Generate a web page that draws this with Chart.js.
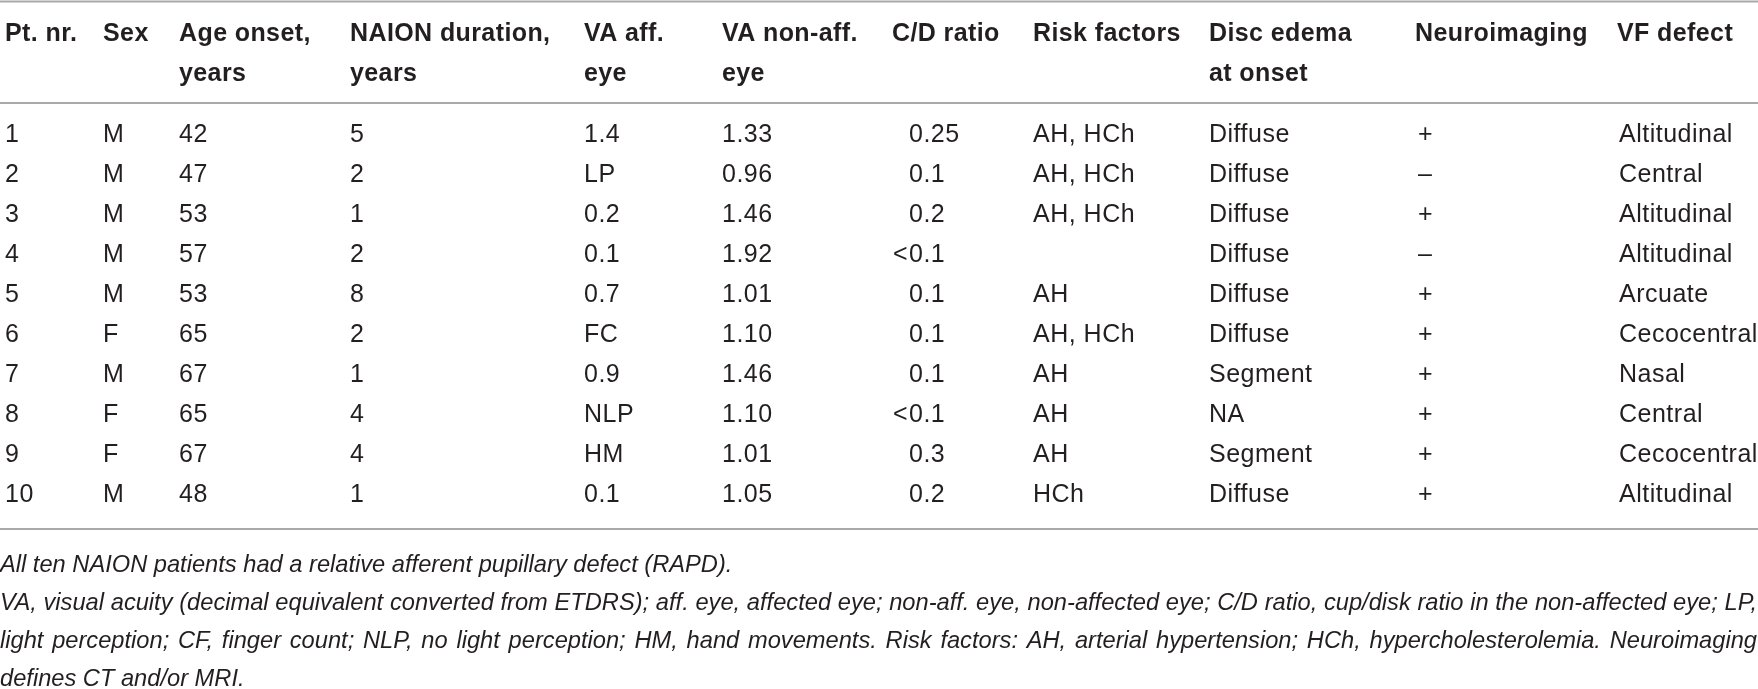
<!DOCTYPE html>
<html>
<head>
<meta charset="utf-8">
<script src="https://cdn.jsdelivr.net/npm/chart.js@4.4.1/dist/chart.umd.min.js"></script>
<style>
  html, body { margin: 0; padding: 0; background: #fff; overflow: hidden; }
  canvas { display: block; }
</style>
</head>
<body>
<canvas id="table" width="1758" height="689"></canvas>
<script>
// table content
const headerTop = ['Pt. nr.', 'Sex', 'Age onset,', 'NAION duration,', 'VA aff.', 'VA non-aff.', 'C/D ratio', 'Risk factors', 'Disc edema', 'Neuroimaging', 'VF defect'];
const headerBottom = ['', '', 'years', 'years', 'eye', 'eye', '', '', 'at onset', '', ''];

const patientNo = ['1', '2', '3', '4', '5', '6', '7', '8', '9', '10'];
const sex = ['M', 'M', 'M', 'M', 'M', 'F', 'M', 'F', 'F', 'M'];
const ageOnset = ['42', '47', '53', '57', '53', '65', '67', '65', '67', '48'];
const duration = ['5', '2', '1', '2', '8', '2', '1', '4', '4', '1'];
const vaAffected = ['1.4', 'LP', '0.2', '0.1', '0.7', 'FC', '0.9', 'NLP', 'HM', '0.1'];
const vaNonAffected = ['1.33', '0.96', '1.46', '1.92', '1.01', '1.10', '1.46', '1.10', '1.01', '1.05'];
const cdRatio = ['0.25', '0.1', '0.2', '<0.1', '0.1', '0.1', '0.1', '<0.1', '0.3', '0.2'];
const riskFactors = ['AH, HCh', 'AH, HCh', 'AH, HCh', '', 'AH', 'AH, HCh', 'AH', 'AH', 'AH', 'HCh'];
const discEdema = ['Diffuse', 'Diffuse', 'Diffuse', 'Diffuse', 'Diffuse', 'Diffuse', 'Segment', 'NA', 'Segment', 'Diffuse'];
const neuroimaging = ['+', '–', '+', '–', '+', '+', '+', '+', '+', '+'];
const vfDefect = ['Altitudinal', 'Central', 'Altitudinal', 'Altitudinal', 'Arcuate', 'Cecocentral', 'Nasal', 'Central', 'Cecocentral', 'Altitudinal'];

const footnotes = [
  'All ten NAION patients had a relative afferent pupillary defect (RAPD).',
  'VA, visual acuity (decimal equivalent converted from ETDRS); aff. eye, affected eye; non-aff. eye, non-affected eye; C/D ratio, cup/disk ratio in the non-affected eye; LP,',
  'light perception; CF, finger count; NLP, no light perception; HM, hand movements. Risk factors: AH, arterial hypertension; HCh, hypercholesterolemia. Neuroimaging',
  'defines CT and/or MRI.',
];
const justified = [false, true, true, false];

// layout (pixel units of the x / y scales)
const W = 1758, H = 689;
const HEAD_X = [5, 103, 179, 350, 584, 722, 892, 1033, 1209, 1415, 1617];
const COL_X = [5, 103, 179, 350, 584, 722, 909, 1033, 1209, 1418, 1619];
const HEAD_Y = [34, 74];
const ROW_Y0 = 135, ROW_STEP = 40;
const RULES_Y = [1.5, 103, 529];
const NOTE_Y0 = 565, NOTE_STEP = 38.3;

const TEXT = '#231f20';
const RULE = '#a9a9a9';
const BODY_FONT = '25px "Liberation Sans", Arial, sans-serif';
const HEAD_FONT = 'bold 25px "Liberation Sans", Arial, sans-serif';

const columns = [patientNo, sex, ageOnset, duration, vaAffected, vaNonAffected, cdRatio, riskFactors, discEdema, neuroimaging, vfDefect];

const cells = [];
columns.forEach((col, c) => col.forEach((t, r) => {
  cells.push({ x: COL_X[c], y: ROW_Y0 + r * ROW_STEP, text: t });
}));
const heads = [];
headerTop.forEach((t, c) => heads.push({ x: HEAD_X[c], y: HEAD_Y[0], text: t }));
headerBottom.forEach((t, c) => { if (t) heads.push({ x: HEAD_X[c], y: HEAD_Y[1], text: t }); });
const notes = footnotes.map((t, i) => ({ x: 0, y: NOTE_Y0 + i * NOTE_STEP, text: t, justify: justified[i] }));

const tableText = {
  id: 'tableText',
  beforeDatasetsDraw(chart) {
    const { ctx, scales: { x, y } } = chart;
    ctx.save();
    ctx.strokeStyle = RULE;
    ctx.lineWidth = 2;
    RULES_Y.forEach(v => {
      const py = y.getPixelForValue(v);
      ctx.beginPath();
      ctx.moveTo(x.getPixelForValue(0), py);
      ctx.lineTo(x.getPixelForValue(W), py);
      ctx.stroke();
    });
    ctx.restore();
  },
  afterDatasetsDraw(chart) {
    const { ctx, scales: { x } } = chart;
    ctx.save();
    ctx.fillStyle = TEXT;
    ctx.textBaseline = 'middle';
    chart.data.datasets.forEach((ds, di) => {
      const meta = chart.getDatasetMeta(di);
      ctx.font = ds.font;
      ctx.letterSpacing = ds.spacing || '0px';
      meta.data.forEach((pt, i) => {
        const d = ds.data[i];
        if (!d.text) return;
        ctx.textAlign = 'left';
        if (ds.kind === 'note' && d.justify) {
          const words = d.text.split(' ');
          const widths = words.map(w => ctx.measureText(w).width);
          const gap = (x.getPixelForValue(W) - 1 - pt.x - widths.reduce((a, b) => a + b, 0)) / (words.length - 1);
          let px = pt.x;
          words.forEach((w, k) => { ctx.fillText(w, px, pt.y); px += widths[k] + gap; });
        } else if (d.text.startsWith('<')) {
          // decimal-aligned: the "<" hangs left of the column edge
          ctx.textAlign = 'right';
          ctx.fillText('<', pt.x - 1, pt.y);
          ctx.textAlign = 'left';
          ctx.fillText(d.text.slice(1), pt.x, pt.y);
        } else {
          ctx.fillText(d.text, pt.x, pt.y);
        }
      });
    });
    ctx.restore();
  },
};

// footnote size: fit the longest line into the page width
const probe = document.createElement('canvas').getContext('2d');
probe.font = 'italic 25px "Liberation Sans", Arial, sans-serif';
const noteSize = Math.min(25, 25 * (W - 4) / probe.measureText(footnotes[1]).width);
const NOTE_FONT = `italic ${noteSize.toFixed(2)}px "Liberation Sans", Arial, sans-serif`;

new Chart(document.getElementById('table'), {
  type: 'scatter',
  data: {
    datasets: [
      { label: 'header', kind: 'head', font: HEAD_FONT, spacing: '0.4px', data: heads, pointRadius: 0 },
      { label: 'cells', kind: 'cell', font: BODY_FONT, spacing: '0.5px', data: cells, pointRadius: 0 },
      { label: 'notes', kind: 'note', font: NOTE_FONT, data: notes, pointRadius: 0 },
    ],
  },
  options: {
    responsive: false,
    animation: false,
    events: [],
    layout: { padding: 0 },
    plugins: { legend: { display: false }, tooltip: { enabled: false } },
    scales: {
      x: { type: 'linear', display: false, min: 0, max: W },
      y: { type: 'linear', display: false, min: 0, max: H, reverse: true },
    },
  },
  plugins: [tableText],
});
</script>
</body>
</html>
